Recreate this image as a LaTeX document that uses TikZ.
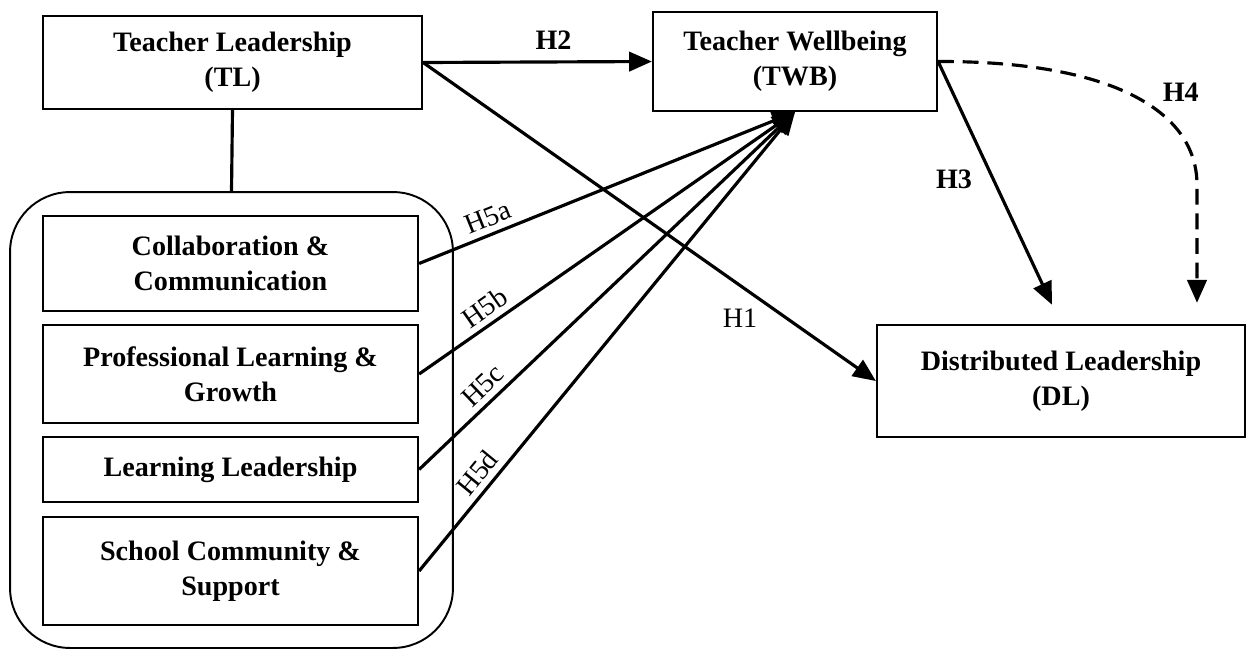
\documentclass[tikz,border=0pt]{standalone}
\usepackage{fontspec}
\setmainfont{Liberation Serif}
\usepackage{tikz}
\usetikzlibrary{arrows.meta}
\newcommand{\boxfont}{\fontsize{16}{20}\selectfont\bfseries}
\newcommand{\hypfont}{\fontsize{16}{18}\selectfont}
\tikzstyle{arrow}     = [line width=1.8pt, -{Triangle[length=13pt,width=11pt]}]
\tikzstyle{dasharrow} = [arrow, dash pattern=on 9pt off 5pt]
\tikzstyle{block}     = [rectangle, draw, line width=1.3pt, font=\boxfont]
\tikzstyle{factor}    = [block, minimum width=7.5cm]
\tikzset{every node/.style={align=center}}

\begin{document}
\begin{tikzpicture}[x=0.02cm, y=-0.02cm]
    \useasboundingbox (0,0) rectangle (1248,650);
    \node (dims)   at (231.5,420) [draw, line width=1.1pt, rounded corners=1.2cm, minimum width=8.86cm, minimum height=9.12cm] {};
    \node (tl)     at (232.5,62.5) [block, minimum width=7.58cm, minimum height=1.86cm] {Teacher Leadership\\(TL)};
    \node (twb)    at (795,61.5)   [block, minimum width=5.68cm, minimum height=1.98cm] {Teacher Wellbeing\\(TWB)};
    \node (dl)     at (1061,381)   [block, minimum width=7.36cm, minimum height=2.24cm] {Distributed Leadership\\(DL)};
    \node (collab) at (230.5,263.5)[factor, minimum height=1.9cm]  {Collaboration \&\\Communication};
    \node (prof)   at (230.5,374)  [factor, minimum height=1.96cm] {Professional Learning \&\\Growth};
    \node (learn)  at (230.5,469.5)[factor, minimum height=1.3cm]  {Learning Leadership};
    \node (school) at (230.5,571)  [factor, minimum height=2.16cm] {School Community \&\\Support};

    \draw [line width=1.8pt] (tl.south) -- (dims.north);
    \draw [arrow] (tl.east) -- node[pos=0.57, above=3pt]{\hypfont\bfseries H2} (twb.west);
    \draw [arrow] (tl.east) -- node[pos=0.7, below=9pt]{\hypfont H1} (dl.west);
    \draw [arrow] (collab.east) -- node[pos=0.2, above, sloped]{\hypfont H5a} (twb.south);
    \draw [arrow] (prof.east)   -- node[pos=0.2, above, sloped]{\hypfont H5b} (twb.south);
    \draw [arrow] (learn.east)  -- node[pos=0.2, above, sloped]{\hypfont H5c} (twb.south);
    \draw [arrow] (school.east) -- node[pos=0.19, above, sloped]{\hypfont H5d} (twb.south);
    \draw [arrow, shorten >=12pt] (twb.east) -- node[pos=0.45, left=8pt]{\hypfont\bfseries H3} (dl.north);
    \draw [dasharrow, shorten >=12pt] (twb.east) .. controls (1110,61) and (1197,110) .. node[pos=0.6, above right=0pt]{\hypfont\bfseries H4} (1197,185) -- (dl.north -| 1197,0);
\end{tikzpicture}
\end{document}
